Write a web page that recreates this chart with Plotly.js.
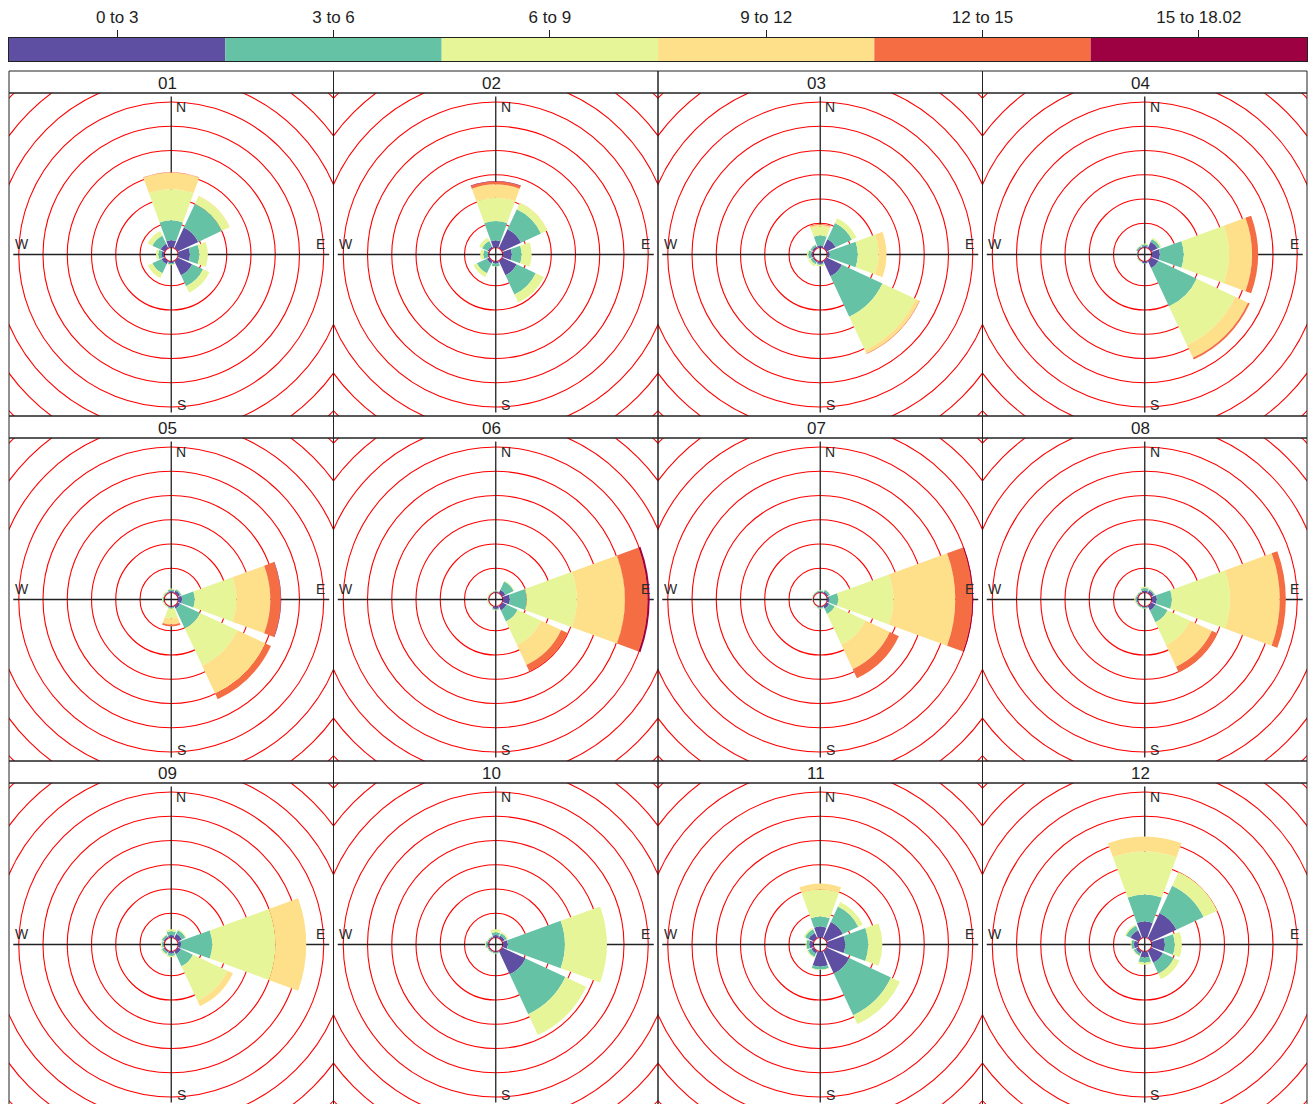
<!DOCTYPE html>
<html>
<head>
<meta charset="utf-8">
<script src="https://cdn.plot.ly/plotly-3.0.1.min.js"></script>
<style>
html,body{margin:0;padding:0;overflow:hidden;background:#fff;}
#chart{width:1311px;height:1107px;}
</style>
</head>
<body>
<div id="chart"></div>
<script>
// ---------- data ----------
const speedBins = ['0 to 3', '3 to 6', '6 to 9', '9 to 12', '12 to 15', '15 to 18.02'];
const binColors = ['#5E4FA2', '#66C2A5', '#E6F598', '#FEE08B', '#F46D43', '#9E0142'];
const directions = [0, 45, 90, 135, 180, 225, 270, 315]; // N, NE, E, SE, S, SW, W, NW
const monthLabels = ['01','02','03','04','05','06','07','08','09','10','11','12'];

// frequency (%) per direction (rows: N..NW), per speed bin (columns: 0-3 .. 15-18.02)
const m01 = [[1.5,4.1,6.4,3.4,0.1,0],[4.7,5.4,1.65,0.15,0,0],[2.4,1.95,1.75,0,0,0],[3.3,2.5,1.45,0,0,0],
             [0.3,0.3,0.15,0,0,0],[0.8,2.05,1.05,0,0,0],[0.5,0.7,0.5,0,0,0],[1.0,1.85,1.05,0,0,0]];
const m02 = [[1.45,4.0,4.8,2.75,0.6,0.1],[4.3,4.55,1.45,0.1,0,0],[1.85,2.05,2.05,0,0,0],[3.3,4.35,1.85,0,0,0],
             [0.4,0.6,0.1,0,0,0],[0.6,2.25,0.8,0,0,0],[0.2,0.9,0.65,0,0,0],[0.4,1.25,0.7,0,0,0]];
const m03 = [[0.4,2.05,1.85,0.4,0.15,0],[2.05,3.7,1.05,0,0,0],[0.5,5.8,4.3,1.6,0,0],[3.5,9.2,7.6,0.8,0.1,0],
             [0.45,0.25,0.3,0,0,0],[0.3,0.5,0.5,0,0,0],[0.4,0.6,0.3,0,0,0],[0.4,0.4,0.1,0,0,0]];
const m04 = [[0.3,0.3,0.2,0,0,0],[1.45,0.6,0.3,0,0,0],[1.65,4.95,9.3,4.75,1.25,0],[1.65,8.75,8.75,2.9,0.4,0],
             [0.3,0.1,0,0,0,0],[0.1,0.15,0.1,0,0,0],[0.1,0.1,0,0,0,0],[0.2,0.3,0.1,0,0,0]];
const m05 = [[0.3,0.3,0.2,0,0,0],[0.6,0.3,0.1,0,0,0],[0.8,2.6,8.55,7.0,2.15,0.1],[0.6,4.55,8.45,6.4,1.25,0],
             [0.2,0.2,2.05,1.25,0.4,0],[0.1,0.1,0.2,0,0,0],[0.1,0.2,0.2,0,0,0],[0.1,0.2,0.2,0,0,0]];
const m06 = [[0.2,0.1,0.1,0,0,0],[0.8,1.85,0.2,0,0,0],[1.45,3.5,10.3,9.9,4.75,0.4],[1.05,2.5,5.35,4.55,1.45,0],
             [0.5,0.2,0.1,0,0,0],[0.1,0.1,0.15,0,0,0],[0.1,0.1,0.15,0,0,0],[0.1,0.1,0.15,0,0,0]];
const m07 = [[0.2,0.2,0.1,0,0,0],[0.4,0.4,0.1,0,0,0],[0.4,1.85,11.35,12.8,3.5,0.2],[0.6,1.25,7.0,5.55,2.05,0],
             [0.2,0.2,0.1,0,0,0],[0.1,0.1,0.1,0,0,0],[0.1,0.1,0.1,0,0,0],[0.1,0.2,0.1,0,0,0]];
const m08 = [[0.4,0.5,0.3,0,0,0],[0.6,0.3,0.1,0,0,0],[1.05,3.1,11.95,10.3,1.25,0],[1.05,2.7,5.15,4.95,1.25,0],
             [0.2,0.2,0.1,0,0,0],[0.2,0.2,0.1,0,0,0],[0.2,0.3,0.2,0,0,0],[0.2,0.2,0.1,0,0,0]];
const m09 = [[0.5,0.8,0.4,0,0,0],[1.0,0.8,0.2,0,0,0],[0.6,6.4,13.0,6.4,0,0],[0.8,2.7,7.85,1.25,0,0],
             [0.4,0.5,0.3,0,0,0],[0.3,0.4,0.3,0,0,0],[0.2,0.3,0.2,0,0,0],[0.3,0.4,0.2,0,0,0]];
const m10 = [[0.5,0.6,0.6,0,0,0],[0.6,0.5,0.3,0,0,0],[1.05,11.75,8.65,0,0,0],[5.35,9.05,4.75,0,0,0],
             [0.2,0.2,0.1,0,0,0],[0.2,0.2,0.1,0,0,0],[0.3,0.3,0.2,0,0,0],[0.2,0.2,0.1,0,0,0]];
const m11 = [[2.25,2.05,5.55,1.25,0,0],[3.7,3.5,1.05,0,0,0],[3.7,4.75,2.9,0,0,0],[5.15,9.5,2.05,0,0,0],
             [3.1,0.6,0.1,0,0,0],[0.6,0.8,0.2,0,0,0],[0.8,0.6,0.2,0,0,0],[1.2,0.8,0.3,0,0,0]];
const m12 = [[3.3,5.55,8.85,3.1,0,0],[5.75,6.2,3.1,0,0,0],[2.7,2.05,1.45,0,0,0],[2.7,2.5,1.25,0,0,0],
             [1.25,1.05,0.4,0,0,0],[0.6,0.5,0.2,0,0,0],[0.8,0.5,0.2,0,0,0],[1.8,1.0,0.3,0,0,0]];
const monthData = [m01,m02,m03,m04,m05,m06,m07,m08,m09,m10,m11,m12];
const gridStep = 5; // % between grid circles

// ---------- layout geometry ----------
const W = 1311, H = 1107;
const colEdges = [9, 333.5, 658, 982.5, 1307];
const stripTops = [71, 416, 761];
const stripH = 22, panelH = 323;
const HOLE_PX = 7, GRID_PX = 24.25;
const FONT = 'Liberation Sans, Arial, sans-serif';
const INK = '#1e1e1e';

const traces = [];
const shapes = [];
const annotations = [];
const layout = {
  width: W, height: H,
  margin: {l:0, r:0, t:0, b:0},
  paper_bgcolor: '#ffffff', plot_bgcolor: 'rgba(0,0,0,0)',
  showlegend: false,
  font: {family: FONT, color: INK},
  shapes: shapes, annotations: annotations
};
const px = x => x / W;
const py = y => 1 - y / H;

monthData.forEach((md, k) => {
  const n = k + 1;
  const sfx = n === 1 ? '' : String(n);
  const row = Math.floor(k / 4), col = k % 4;
  const x0 = colEdges[col], x1 = colEdges[col + 1];
  const st = stripTops[row], pt = st + stripH, pb = pt + panelH;
  const pw = x1 - x0, ph = panelH;
  const rPx = Math.min(pw, ph) / 2;
  const rMax = (rPx - HOLE_PX) / GRID_PX * gridStep;

  // hidden cartesian axes (pixel units) for grid rings and crosshair
  layout['xaxis' + sfx] = {domain: [px(x0), px(x1)], range: [-pw/2, pw/2], visible: false,
                           fixedrange: true, anchor: 'y' + sfx, showgrid: false, zeroline: false};
  layout['yaxis' + sfx] = {domain: [py(pb), py(pt)], range: [-ph/2, ph/2], visible: false,
                           fixedrange: true, anchor: 'x' + sfx, showgrid: false, zeroline: false};
  traces.push({type: 'scatter', x: [], y: [], xaxis: 'x' + sfx, yaxis: 'y' + sfx,
               hoverinfo: 'skip', showlegend: false});

  for (let i = 0; i <= 9; i++) {
    const r = HOLE_PX + i * GRID_PX;
    shapes.push({type: 'circle', xref: 'x' + sfx, yref: 'y' + sfx, x0: -r, x1: r, y0: -r, y1: r,
                 line: {color: '#FF0000', width: 1.1}, layer: 'below'});
  }
  shapes.push({type: 'line', xref: 'x' + sfx, yref: 'y' + sfx, x0: -158, x1: 158, y0: 0, y1: 0,
               line: {color: '#222', width: 1.3}, layer: 'below'});
  shapes.push({type: 'line', xref: 'x' + sfx, yref: 'y' + sfx, x0: 0, x1: 0, y0: -158, y1: 158,
               line: {color: '#222', width: 1.3}, layer: 'below'});

  [['N', 10, 147.5], ['E', 149.5, 10.5], ['S', 10, -150.5], ['W', -149.5, 10.5]].forEach(([t, ax, ay]) => {
    annotations.push({text: t, xref: 'x' + sfx, yref: 'y' + sfx, x: ax, y: ay, showarrow: false,
                      xanchor: 'center', yanchor: 'middle', font: {size: 14, color: '#2a2a2a', family: FONT}});
  });

  // polar subplot for the rose
  layout['polar' + sfx] = {
    domain: {x: [px(x0), px(x1)], y: [py(pb), py(pt)]},
    hole: HOLE_PX / rPx,
    bgcolor: 'rgba(0,0,0,0)',
    barmode: 'stack',
    radialaxis: {visible: false, range: [0, rMax], showgrid: false},
    angularaxis: {visible: false, rotation: 90, direction: 'clockwise', showgrid: false}
  };
  speedBins.forEach((b, bi) => {
    traces.push({
      type: 'barpolar', subplot: 'polar' + sfx,
      r: md.map(d => d[bi]), theta: directions, width: 40,
      marker: {color: binColors[bi], line: {width: 0}},
      name: b, hoverinfo: 'skip', showlegend: false
    });
  });

  // panel frame and strip
  shapes.push({type: 'rect', xref: 'paper', yref: 'paper', x0: px(x0), x1: px(x1), y0: py(pb), y1: py(pt),
               line: {color: '#222', width: 1}, layer: 'above'});
  shapes.push({type: 'rect', xref: 'paper', yref: 'paper', x0: px(x0), x1: px(x1), y0: py(pt), y1: py(st),
               line: {color: '#222', width: 1}, fillcolor: 'rgba(0,0,0,0)', layer: 'above'});
  annotations.push({text: monthLabels[k], xref: 'paper', yref: 'paper', x: px((x0 + x1) / 2 - 4), y: py(st + stripH / 2 + 1.5),
                    showarrow: false, xanchor: 'center', yanchor: 'middle', font: {size: 17, color: INK, family: FONT}});
});

// ---------- key (colour bar) ----------
layout.xaxis13 = {domain: [px(9), px(1307)], range: [0, 6], anchor: 'y13', side: 'top',
  tickmode: 'array', tickvals: [0.5,1.5,2.5,3.5,4.5,5.5], ticktext: speedBins,
  ticks: 'outside', ticklen: 7, tickwidth: 1, tickcolor: '#222',
  showline: true, mirror: true, linecolor: '#222', linewidth: 1.2,
  showgrid: false, zeroline: false, fixedrange: true,
  tickfont: {size: 17, color: INK, family: FONT}};
layout.yaxis13 = {domain: [py(61), py(38)], range: [0, 1], anchor: 'x13',
  showline: true, mirror: true, linecolor: '#222', linewidth: 1.2,
  showticklabels: false, ticks: '', showgrid: false, zeroline: false, fixedrange: true};
traces.push({type: 'bar', x: [0.5,1.5,2.5,3.5,4.5,5.5], y: [1,1,1,1,1,1], width: 1,
  xaxis: 'x13', yaxis: 'y13', marker: {color: binColors, line: {width: 0}},
  hoverinfo: 'skip', showlegend: false});

Plotly.newPlot('chart', traces, layout, {displayModeBar: false, staticPlot: true});
</script>
</body>
</html>
